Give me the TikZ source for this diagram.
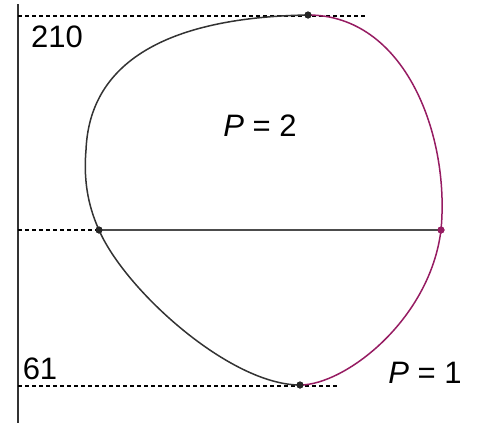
\documentclass[tikz,border=0pt]{standalone}
\usepackage{fontspec}
\setmainfont{Liberation Sans}
\definecolor{plum}{RGB}{150,28,98}
\begin{document}
\begin{tikzpicture}[x=1pt,y=-1pt,
  curve/.style={line width=1.5pt},
  guide/.style={line width=1.1pt,dash pattern=on 3.5pt off 3.5pt},
  dot/.style={circle,fill=black!85,inner sep=0pt,minimum size=7pt},
  lbl/.style={font=\fontsize{31}{32}\selectfont,inner sep=0pt}]
\useasboundingbox (0,0) rectangle (493,423);
% axis
\coordinate (axTop) at (18,4);
\coordinate (axBot) at (18,423);
\draw[line width=1.7pt,black!80] (axTop) -- (axBot);
% key points
\node[dot] (T) at (308,15) {};
\node[dot] (L) at (99,230) {};
\node[dot,fill=plum] (R) at (441,230) {};
\node[dot] (B) at (300,385) {};
\coordinate (K) at (86,150);
% guides
\coordinate (g1a) at (18,16); \coordinate (g1b) at (368,16);
\coordinate (g2a) at (18,230);
\coordinate (g3a) at (18,386); \coordinate (g3b) at (340,386);
\draw[guide] (g1a) -- (g1b);
\draw[guide] (g2a) -- (L);
\draw[guide] (g3a) -- (g3b);
% chord
\draw[line width=1.4pt,black!70] (L.center) -- (R.center);
% black part
\draw[curve,black!80] (T.center) .. controls (185,17) and (90,52) .. (K)
  .. controls (83,185) and (90,210) .. (L.center)
  .. controls (125,290) and (230,385) .. (B.center);
% magenta part
\draw[curve,plum] (B.center) .. controls (345,385) and (430,320) .. (R.center)
  .. controls (450,135) and (405,15) .. (T.center);
% redraw dots on top
\fill[black!85] (T) circle (3.5pt) (L) circle (3.5pt) (B) circle (3.5pt);
\fill[plum] (R) circle (3.5pt);
% labels
\node[lbl] (t210) at (57,37) {210};
\node[lbl] (t61) at (40,369) {61};
\node[lbl] (p2) at (260,126) {$\mathit{P}$ = 2};
\node[lbl] (p1) at (425,373) {$\mathit{P}$ = 1};
\end{tikzpicture}
\end{document}
